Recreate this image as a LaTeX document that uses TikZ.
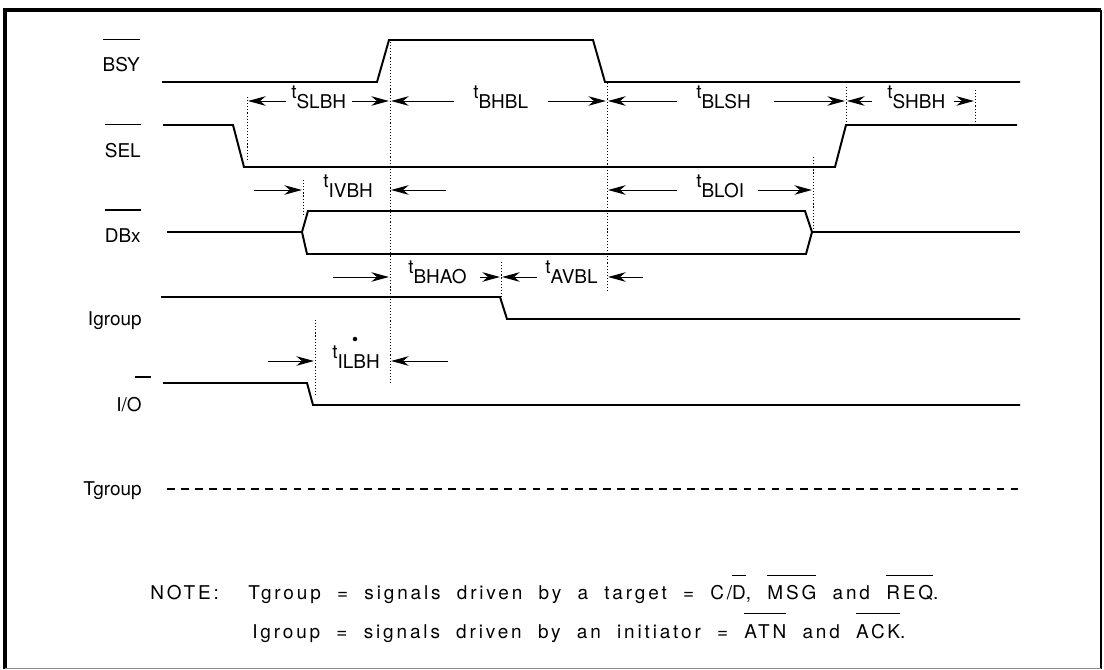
\documentclass[tikz,border=0pt]{standalone}
\usepackage{fontspec}
\setmainfont{TeX Gyre Heros}
\newfontfamily\notefont[LetterSpace=15,WordSpace=2]{TeX Gyre Heros}
\usepackage{tikz}
\usetikzlibrary{arrows.meta,calc}
\newcommand{\drawthick}{\draw[line width=1.4pt]}
\newcommand{\drawdotted}{\draw[line width=0.6pt, dash pattern=on 0.8pt off 1.4pt]}
\newcommand{\overbar}[2]{\vbox{\hrule height 0.8pt\kern #1\hbox{#2}}}
\newcommand{\tlabel}[4]{\node[anchor=base west, inner sep=0pt] (#1) at (#2,#3) {\raisebox{6.5pt}{t}#4};}
\newcommand{\sigmark}[4]{
    \coordinate (#1) at (#2,0);
    \drawdotted (#2,#3)--(#2,#4);
}
\newcommand{\timearrow}[3]{\draw[tarrow] (#1,#3) -- ($(#2)+(0,#3)$);}
\tikzset{
    tarrow/.style={line width=0.65pt, -{Stealth[length=12.5pt,width=6.8pt,inset=4pt]}, shorten >=0.8pt},
    siglabel/.style={anchor=base east, inner sep=0pt},
    notetext/.style={anchor=base west, inner sep=0pt, font=\notefont\fontsize{13.5}{16}\selectfont}
}

\begin{document}
\begin{tikzpicture}[x=0.025cm, y=-0.025cm, font=\fontsize{13.5}{16}\selectfont]
\useasboundingbox (0,0) rectangle (1104,670);
% frame
\draw[line width=2.6pt] (5,669) -- (5,10) -- (1101,10);
\draw[line width=1.6pt] (1101,10) -- (1101,669);
\draw[line width=0.6pt, black!45] (5,668) -- (1101,668);
% signal names
\node[siglabel] (bsy) at (140,72) {\overbar{12.5pt}{BSY}};
\node[siglabel] (sel) at (141,157) {\overbar{12.5pt}{SEL}};
\node[siglabel] (dbx) at (141,242) {\overbar{12.5pt}{DBx}};
\node[siglabel] (igroup) at (142,325) {Igroup};
\node[siglabel] (io) at (142,411) {I/O};
\draw[line width=0.8pt] ($(io.base east)+(-7,-34)$) -- ++(16,0);
\node[siglabel] (tgroup) at (142,495) {Tgroup};
% waveforms
\drawthick (162,82) -- (377,82) -- (389,40) -- (593,40) -- (605,82) -- (1020,82);
\drawthick (163,125) -- (233,125) -- (244,167) -- (835,167) -- (846,125) -- (1017,125);
\drawthick (167,232) -- (302,232);
\drawthick (302,232) -- (308,211) -- (805,211) -- (812,232) -- (806,254) -- (307,254) -- cycle;
\drawthick (812,232) -- (1020,232);
\drawthick (161,297) -- (500,297) -- (507,319) -- (1020,319);
\drawthick (163,383) -- (307,383) -- (313,405) -- (1020,405);
\draw[line width=1.2pt, dash pattern=on 5.5pt off 4.5pt] (167,489) -- (1022,489);
% timing marks
\sigmark{mA}{247}{97}{160}
\sigmark{mB}{390}{42}{383}
\sigmark{mC}{607}{83}{293}
\sigmark{mD}{846}{87}{125}
\sigmark{mE}{975}{90}{125}
\sigmark{mF}{303}{180}{215}
\sigmark{mG}{813}{157}{230}
\sigmark{mH}{501}{262}{297}
\sigmark{mK}{315}{320}{395}
\tlabel{slbh}{291}{108}{SLBH}\tlabel{bhbl}{473}{108}{BHBL}\tlabel{blsh}{696}{108}{BLSH}\tlabel{shbh}{887}{108}{SHBH}
\tlabel{ivbh}{323}{197}{IVBH}\tlabel{bloi}{696}{197}{BLOI}
\tlabel{bhao}{408}{283}{BHAO}\tlabel{avbl}{545}{283}{AVBL}
\tlabel{ilbh}{332}{368}{ILBH}
\fill (355,339) circle (1.6pt);
\foreach \from/\to in {286/mA,352/mB,454/mB,548/mC,677/mC,774/mD,872/mD,954/mE}{
    \timearrow{\from}{\to}{101}
}
\foreach \from/\to in {254/mF,446/mB,677/mC,758/mG}{
    \timearrow{\from}{\to}{190}
}
\foreach \from/\to in {333/mB,480/mH,537/mH,643/mC}{
    \timearrow{\from}{\to}{277}
}
\foreach \from/\to in {268/mK,448/mB}{
    \timearrow{\from}{\to}{361}
}
% note
\node[notetext] (note) at (150,599) {NOTE:};
\node[notetext] (tnote) at (248,599)
    {Tgroup = signals driven by a target = C/\overbar{6.5pt}{D}, \overbar{6.5pt}{MSG} and \overbar{6.5pt}{REQ}.};
\node[notetext] (inote) at (252,638)
    {Igroup = signals driven by an initiator = \overbar{7pt}{ATN} and \overbar{7pt}{ACK}.};
\end{tikzpicture}
\end{document}
